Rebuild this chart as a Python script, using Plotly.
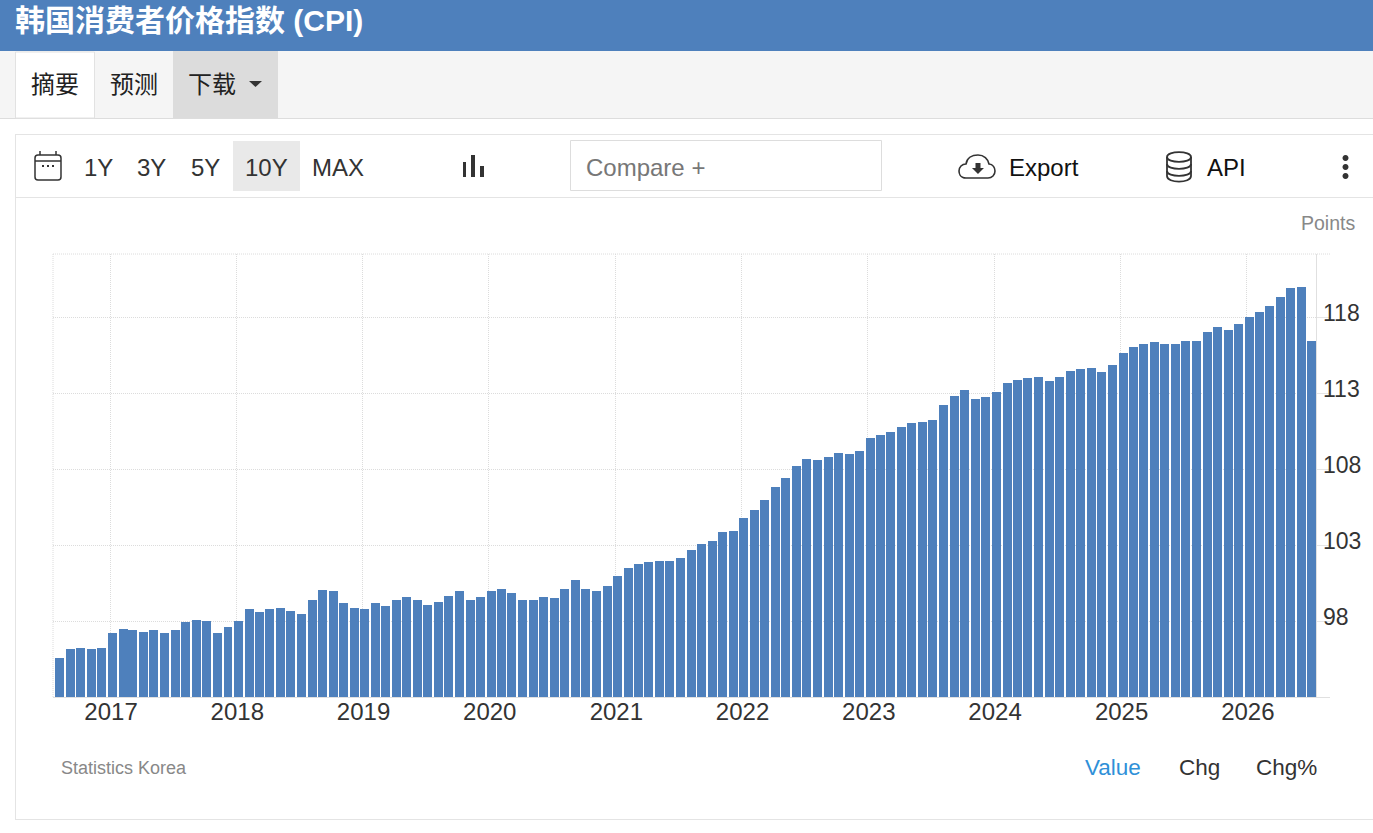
import re
import pandas as pd
import plotly.graph_objects as go

# ---------- data ----------
title_text = "韩国消费者价格指数 (CPI)"
unit_label = "Points"
source_label = "Statistics Korea"
range_buttons = ["1Y", "3Y", "5Y", "10Y", "MAX"]
tab_labels = ["摘要", "预测", "下载"]
view_labels = ["Value", "Chg", "Chg%"]
year_ticks = [2017, 2018, 2019, 2020, 2021, 2022, 2023, 2024, 2025, 2026]
value_ticks = [98, 103, 108, 113, 118]

cpi_2016 = [95.54, 96.14, 96.22, 96.14, 96.22]
cpi_2017 = [97.21, 97.50, 97.41, 97.30, 97.41, 97.21, 97.41, 97.91, 98.09, 98.00, 97.21, 97.61]
cpi_2018 = [98.00, 98.79, 98.59, 98.79, 98.88, 98.68, 98.48, 99.38, 100.06, 99.97, 99.18, 98.88]
cpi_2019 = [98.79, 99.18, 98.99, 99.38, 99.58, 99.38, 99.07, 99.27, 99.67, 99.97, 99.38, 99.58]
cpi_2020 = [99.97, 100.08, 99.86, 99.38, 99.38, 99.58, 99.49, 100.08, 100.68, 100.08, 99.97, 100.28]
cpi_2021 = [100.96, 101.46, 101.75, 101.86, 101.95, 101.95, 102.14, 102.65, 103.04, 103.24, 103.83, 103.92]
cpi_2022 = [104.80, 105.30, 105.98, 106.79, 107.39, 108.18, 108.66, 108.57, 108.77, 109.05, 108.96, 109.16]
cpi_2023 = [110.04, 110.24, 110.43, 110.74, 111.03, 111.11, 111.22, 112.21, 112.80, 113.20, 112.61, 112.71]
cpi_2024 = [113.09, 113.68, 113.88, 113.99, 114.07, 113.79, 114.07, 114.47, 114.58, 114.67, 114.38, 114.86]
cpi_2025 = [115.65, 116.05, 116.25, 116.33, 116.25, 116.25, 116.44, 116.44, 117.04, 117.32, 117.12, 117.52]
cpi_2026 = [118.02, 118.33, 118.72, 119.29, 119.89, 120.00, 116.44]

values = (cpi_2016 + cpi_2017 + cpi_2018 + cpi_2019 + cpi_2020 + cpi_2021
          + cpi_2022 + cpi_2023 + cpi_2024 + cpi_2025 + cpi_2026)
months = pd.date_range("2016-08-01", periods=len(values), freq="MS") + pd.Timedelta(days=7)

# ---------- layout geometry (page pixels) ----------
W, H = 1373, 833
L, R, T, B = 53, 1316, 254, 697
FONT = "Liberation Sans, Arial, Noto Sans CJK SC, sans-serif"
BAR = "#4e80bc"
LINE = "#e4e4e4"
DARK = "#333333"
GRID = "#dcdcdc"
DOTS = "1px,1px"


def px(x):
    return (x - L) / (R - L)


def py(y):
    return (B - y) / (B - T)


shapes, notes = [], []


def rect(x0, y0, x1, y1, fill, line=None):
    shapes.append(dict(type="rect", xref="paper", yref="paper", x0=px(x0), x1=px(x1),
                       y0=py(y0), y1=py(y1), fillcolor=fill, layer="below",
                       line=dict(color=line or fill, width=1 if line else 0)))


def seg(x0, y0, x1, y1, color=LINE, width=1, dash="solid"):
    shapes.append(dict(type="line", xref="paper", yref="paper", x0=px(x0), x1=px(x1),
                       y0=py(y0), y1=py(y1), layer="below",
                       line=dict(color=color, width=width, dash=dash)))


def path(d, fill=None, color=DARK, width=2):
    nums = iter(re.findall(r"[A-Za-z]|-?\d+\.?\d*", d))
    out = []
    for tok in nums:
        if tok.isalpha():
            out.append(tok)
        else:
            out.append(f"{px(float(tok)):.5f},{py(float(next(nums))):.5f}")
    shapes.append(dict(type="path", xref="paper", yref="paper", path=" ".join(out),
                       fillcolor=fill or "rgba(0,0,0,0)",
                       line=dict(color=color, width=width)))


def text(s, x, y, size, color=DARK, anchor="left", bold=False):
    notes.append(dict(text=f"<b>{s}</b>" if bold else s, xref="paper", yref="paper",
                      x=px(x), y=py(y), xanchor=anchor, yanchor="middle", showarrow=False,
                      font=dict(family=FONT, size=size, color=color), borderpad=0))


# header
rect(0, 0, W, 51, BAR)
text(title_text, 14, 20.5, 30, "#ffffff", bold=True)

# tab bar
rect(0, 51, W, 118, "#f5f5f5")
seg(0, 118.5, W, 118.5, "#dddddd")
rect(15.5, 52, 94.5, 118, "#ffffff", "#e2e2e2")
rect(173, 51, 278, 118, "#dcdcdc")
for label, cx in zip(tab_labels, [55, 134, 212]):
    text(label, cx, 85, 24, "#222222", anchor="center")
path("M 249 81 L 262 81 L 255.5 87 Z", fill=DARK, width=0)

# card
seg(15.5, 134, 15.5, 819)
seg(15, 134.5, W, 134.5)
seg(15, 197.5, W, 197.5)
seg(15, 819.5, W, 819.5)

# toolbar
path("M 38 155 L 58 155 C 60 155 61 156 61 158 L 61 177 C 61 179 60 180 58 180 "
     "L 38 180 C 36 180 35 179 35 177 L 35 158 C 35 156 36 155 38 155 Z", width=1.5)
path("M 35 161 L 61 161", width=1.5)
path("M 40 151 L 40 155", width=1.5)
path("M 56 151 L 56 155", width=1.5)
for cx in (43, 48, 53):
    path(f"M {cx - 1} 165 L {cx + 1} 165 L {cx + 1} 167 L {cx - 1} 167 Z", fill=DARK, width=0)

rect(233, 141, 300, 191, "#e9e9e9")
for label, cx in zip(range_buttons, [98, 151, 205, 266, 338]):
    text(label, cx, 167, 24, DARK, anchor="center")

for x0, x1, top in ((463, 466, 162), (471, 475, 155), (480, 484, 166)):
    path(f"M {x0} {top} L {x1} {top} L {x1} 177 L {x0} 177 Z", fill=DARK, width=0)

rect(570.5, 140.5, 881.5, 190.5, "#ffffff", "#dddddd")
text("Compare +", 585, 167, 24, "#777777")

path("M 966 178 C 960 178 959 173 959 171 C 959 167 962 164 966 164 C 967 158 972 155 978 155 "
     "C 984 155 988 159 989 164 C 993 164 995 168 995 171 C 995 175 992 178 988 178 Z", width=1.6)
path("M 975.5 163 L 980.5 163 L 980.5 168 L 984 168 L 978 174 L 972 168 L 975.5 168 Z",
     fill=DARK, width=0)
text("Export", 1008, 167, 24, "#111111")

path("M 1167 157 C 1167 150.5 1191 150.5 1191 157 C 1191 163.5 1167 163.5 1167 157 Z", width=1.8)
path("M 1167 157 L 1167 176 C 1167 183.5 1191 183.5 1191 176 L 1191 157", width=1.8)
path("M 1167 164 C 1167 170.5 1191 170.5 1191 164", width=1.8)
path("M 1167 171 C 1167 177.5 1191 177.5 1191 171", width=1.8)
text("API", 1206, 167, 24, "#111111")

for cy in (158, 167, 176):
    path(f"M 1345.5 {cy - 3} C 1349.5 {cy - 3} 1349.5 {cy + 3} 1345.5 {cy + 3} "
         f"C 1341.5 {cy + 3} 1341.5 {cy - 3} 1345.5 {cy - 3} Z", fill=DARK, width=0)

text(unit_label, 1356, 223, 19.5, "#888888", anchor="right")

# plot frame extras
seg(L, T, 1330, T, GRID, 1, DOTS)
seg(L, T, L, B, GRID, 1, DOTS)
seg(L, B + 0.5, 1330, B + 0.5, "#e0e0e0")

# value labels sit just above their grid lines, as in the reference
for v in value_ticks:
    notes.append(dict(text=str(v), xref="paper", yref="y", x=px(1321), y=v, xanchor="left",
                      yanchor="middle", yshift=4, showarrow=False,
                      font=dict(family=FONT, size=23, color=DARK)))

# footer
text(source_label, 60, 768, 18, "#888888")
text(view_labels[0], 1084, 767, 22.5, "#2f90d8")
text(view_labels[1], 1178, 767, 22.5, DARK)
text(view_labels[2], 1255, 767, 22.5, DARK)

# ---------- figure ----------
fig = go.Figure(go.Bar(x=months, y=values, width=26 * 86400000, marker=dict(color=BAR, line=dict(width=0)),
                       hoverinfo="skip", name="CPI"))
fig.update_layout(
    width=W, height=H, showlegend=False, hovermode=False, bargap=0,
    paper_bgcolor="#ffffff", plot_bgcolor="#ffffff",
    margin=dict(l=L, r=W - R, t=T, b=H - B, pad=0, autoexpand=False),
    shapes=shapes, annotations=notes,
    font=dict(family=FONT, color=DARK),
    xaxis=dict(type="date", range=["2016-07-20", "2026-07-20"],
               tickmode="array", tickvals=[f"{y}-01-01" for y in year_ticks],
               ticktext=[str(y) for y in year_ticks],
               tickfont=dict(family=FONT, size=24, color=DARK), ticks="", ticklen=0,
               showgrid=True, gridcolor=GRID, griddash=DOTS, gridwidth=1,
               showline=False, zeroline=False, ticklabelstandoff=-2, ticklabelshift=1),
    yaxis=dict(range=[93, 93 + (B - T) / 15.2], side="right", tickmode="array", tickvals=value_ticks,
               showticklabels=False, ticks="outside", ticklen=14, tickcolor="#e6e6e6", tickwidth=1,
               showgrid=True, gridcolor=GRID, griddash=DOTS, gridwidth=1,
               showline=True, linecolor="#e0e0e0", linewidth=1, zeroline=False),
)

fig.write_html("out.html", config={"displayModeBar": False, "responsive": False},
               post_script="document.body.style.margin='0';document.body.style.overflow='hidden';")
